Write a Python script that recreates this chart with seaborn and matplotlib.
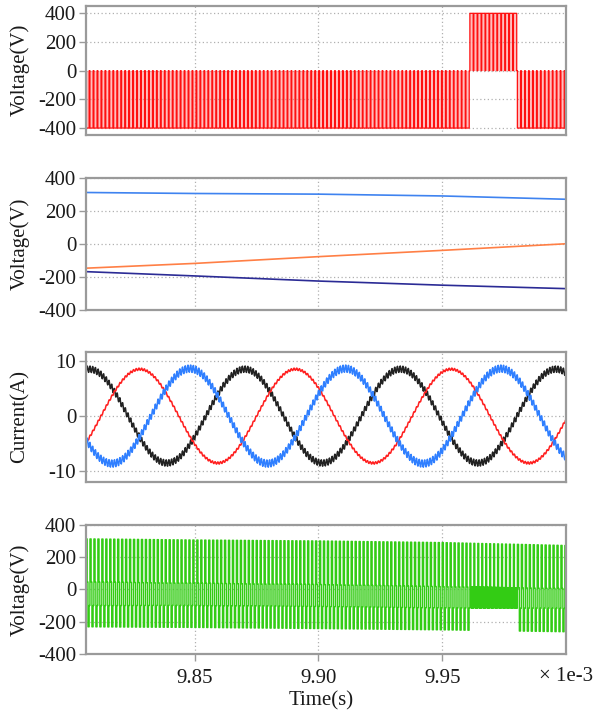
import numpy as np
import pandas as pd
import matplotlib
matplotlib.use('Agg')
import matplotlib.pyplot as plt
import seaborn as sns

# time axis is in ms, shown with a "x 1e-3" multiplier like the original
t_start, t_end = 9.806, 10.0
knot_t = [9.806, 9.85, 9.90, 9.95, 10.0]
x_ticks = [9.85, 9.90, 9.95]
x_ticklabels = ['9.85', '9.90', '9.95']

# panel 1 - switching voltage (0 / -400, flips to 0 / +400 in a short window)
p1_low, p1_high = -400, 400
flip_window = [9.9597, 9.9795]
carrier_period = 0.0016
ripple_period = 0.0011

# panel 2 - reference voltages read at the knot times
ref_a = [311, 305, 301, 290, 270]
ref_b = [-148, -119, -78, -40, 0]
ref_c = [-169, -195, -226, -251, -272]
ref_colors = ['#3f83f0', '#ff7f45', '#2b2b95']

# panel 3 - phase currents (first peak time, period, amplitude, ripple)
cur_peak_t = [9.8073, 9.8278, 9.8480]
cur_period = 0.0629
cur_amp = [8.5, 8.5, 8.6]
cur_ripple = [0.7, 0.25, 0.8]
cur_colors = ['#222222', '#ff2020', '#2f7fff']

# panel 4 - output voltage levels read at the knot times
top_env = [313, 306, 300, 290, 272]
mid_hi = [46, 38, 30, 17, 5]
mid_lo = [-100, -100, -106, -115, -118]
bot_env = [-232, -236, -243, -251, -263]
green = '#33cc14'


def in_window(tk):
    return flip_window[0] <= tk < flip_window[1]


def step_frame(times, values):
    return pd.DataFrame({'t': times, 'v': values})


# ---- build panel 1 pulse train
periods = np.arange(t_start, t_end + carrier_period, carrier_period)
duty = 0.5 + (np.interp(periods, knot_t, ref_a) - np.interp(periods, knot_t, ref_c)) / 1600
p1_t, p1_v = [], []
for tk, d in zip(periods, duty):
    level = p1_high if in_window(tk) else p1_low
    p1_t += [tk, tk + d * carrier_period]
    p1_v += [level, 0]
df1 = step_frame(p1_t, p1_v)

# ---- panel 2 references
df2 = pd.DataFrame({'t': knot_t * 3, 'v': ref_a + ref_b + ref_c,
                    'phase': ['a'] * 5 + ['b'] * 5 + ['c'] * 5})

# ---- panel 3 currents
tc = np.arange(t_start, t_end, ripple_period / 8)
cur_frames = []
for name, tp, a, r in zip(['k', 'r', 'b'], cur_peak_t, cur_amp, cur_ripple):
    tri = 2 * np.abs(2 * ((tc / ripple_period) % 1) - 1) - 1
    i = a * np.cos(2 * np.pi * (tc - tp) / cur_period) + r * tri
    cur_frames.append(pd.DataFrame({'t': tc, 'v': i, 'phase': name}))
df3 = pd.concat(cur_frames)

# ---- panel 4 multi-level output
p4_t, p4_v = [], []
for tk in periods:
    top = np.interp(tk, knot_t, top_env)
    mh = np.interp(tk, knot_t, mid_hi)
    ml = np.interp(tk, knot_t, mid_lo)
    bot = np.interp(tk, knot_t, bot_env)
    if in_window(tk):
        seq = [top, mh, ml, mh, ml, mh, ml, mh, ml]
        frac = [0.0, 0.25, 0.33, 0.42, 0.5, 0.58, 0.67, 0.75, 0.83]
    else:
        seq = [top, mh, bot, ml]
        frac = [0.0, 0.3, 0.5, 0.8]
    p4_t += [tk + f * carrier_period for f in frac]
    p4_v += seq
df4 = step_frame(p4_t, p4_v)

# ---- figure
sns.set_style('white')
plt.rcParams['font.family'] = ['Liberation Serif', 'DejaVu Serif']
fs = 15

fig = plt.figure(figsize=(5.95, 7.17), dpi=100)
boxes = [(0.812, 0.992), (0.568, 0.752), (0.328, 0.509), (0.088, 0.268)]
axes = [fig.add_axes([0.1445, b, 0.8065, t - b]) for b, t in boxes]

ax1, ax2, ax3, ax4 = axes
ax1.fill_between(df1['t'], df1['v'], 0, step='post', color='#ff7070',
                 alpha=0.45, lw=0)
sns.lineplot(data=df1, x='t', y='v', ax=ax1, color='#ff1010', lw=0.9,
             estimator=None, sort=False, drawstyle='steps-post', snap=False)
sns.lineplot(data=df2, x='t', y='v', hue='phase', palette=ref_colors, ax=ax2,
             lw=1.2, estimator=None, sort=False, legend=False)
sns.lineplot(data=df3, x='t', y='v', hue='phase', palette=cur_colors, ax=ax3,
             lw=1.1, estimator=None, sort=False, legend=False)
sns.lineplot(data=df4, x='t', y='v', ax=ax4, color=green, lw=1.0,
             estimator=None, sort=False, drawstyle='steps-post', snap=False)

ylims = [(-447, 453), (-400, 400), (-11.9, 11.6), (-400, 400)]
yticks = [[-400, -200, 0, 200, 400], [-400, -200, 0, 200, 400],
          [-10, 0, 10], [-400, -200, 0, 200, 400]]
ylabels = ['Voltage(V)', 'Voltage(V)', 'Current(A)', 'Voltage(V)']

for ax, yl, yt, lab in zip(axes, ylims, yticks, ylabels):
    ax.set_xlim(t_start, t_end)
    ax.set_ylim(*yl)
    ax.set_yticks(yt)
    ax.set_yticklabels([str(v) for v in yt])
    ax.set_xticks(x_ticks)
    ax.grid(True, linestyle=(0, (1, 2)), color='#b0b0b0', lw=0.9)
    for s in ax.spines.values():
        s.set_color('#9a9a9a')
        s.set_linewidth(1.6)
    ax.tick_params(axis='y', left=True, length=5, width=1, color='#9a9a9a',
                   labelcolor='#1a1a1a', labelsize=fs, pad=2)
    ax.set_ylabel(lab, fontsize=fs, color='#1a1a1a')
    ax.yaxis.set_label_coords(-0.118, 0.5)
    ax.set_xlabel('')
    if ax is ax4:
        ax.set_xticklabels(x_ticklabels)
        ax.tick_params(axis='x', bottom=True, length=5, width=1, color='#9a9a9a',
                       labelcolor='#1a1a1a', labelsize=fs, pad=6)
    else:
        ax.tick_params(axis='x', bottom=False, labelbottom=False)

fig.text(0.997, 0.056, '× 1e-3', ha='right', va='center', fontsize=fs, color='#1a1a1a')
fig.text(0.54, 0.022, 'Time(s)', ha='center', va='center', fontsize=fs, color='#1a1a1a')

fig.savefig('out.png', dpi=100, facecolor='white')
